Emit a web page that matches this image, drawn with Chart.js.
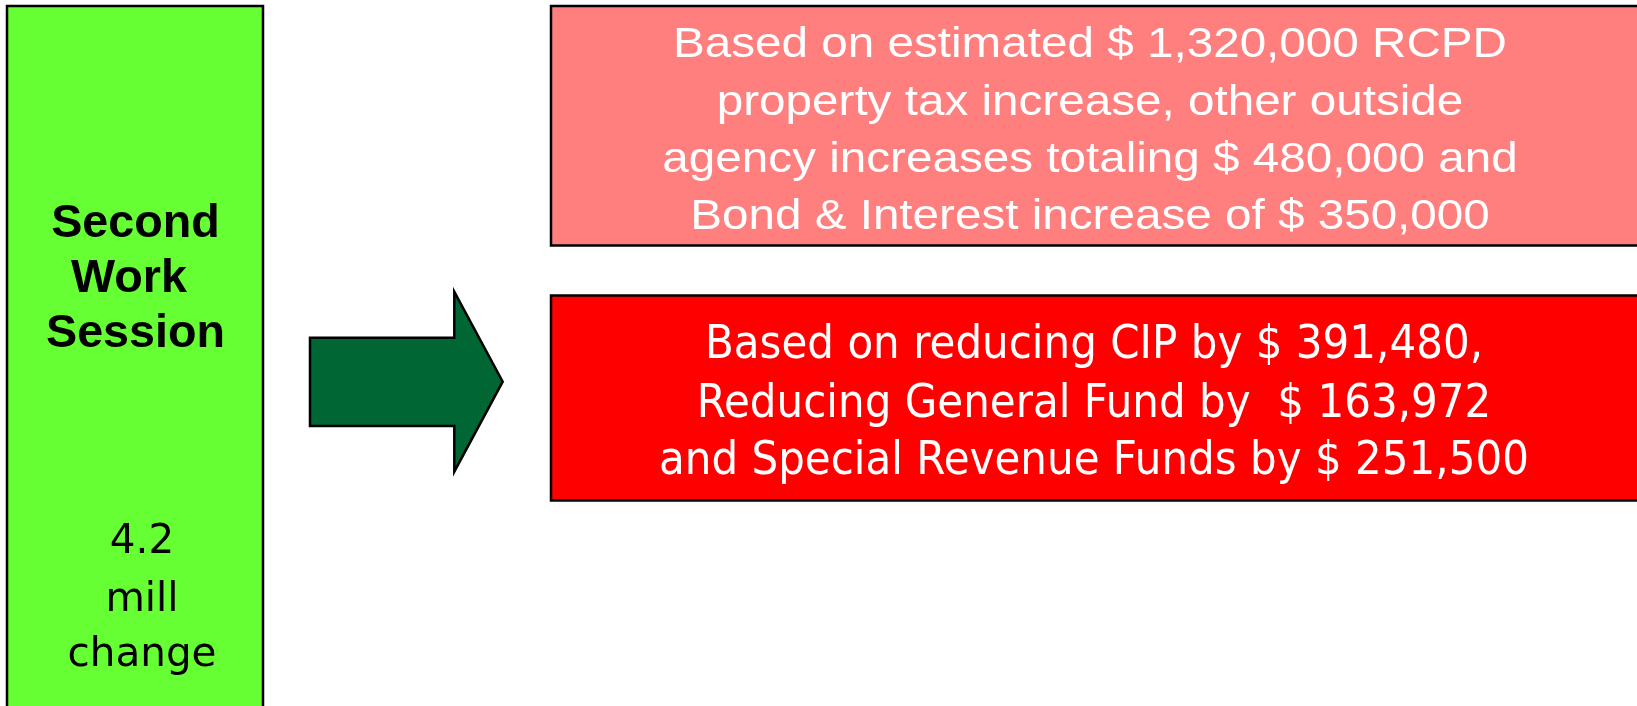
<!DOCTYPE html>
<html>
<head>
<meta charset="utf-8">
<script src="https://cdn.jsdelivr.net/npm/chart.js@4/dist/chart.umd.min.js"></script>
<style>
html,body{margin:0;padding:0;background:#fff;overflow:hidden}
canvas{display:block}
</style>
</head>
<body>
<canvas id="c" width="1637" height="706"></canvas>
<script>
// ---- data ----
const sessionTitle = ['Second', 'Work ', 'Session'];
const millChange = 4.2;
const millLabels = ['mill', 'change'];
const rcpdIncrease = 1320000;
const agencyIncrease = 480000;
const bondIncrease = 350000;
const cipReduction = 391480;
const generalFundReduction = 163972;
const specialRevenueReduction = 251500;

const fmt = v => '$ ' + v.toLocaleString('en-US');
const increaseLines = [
  `Based on estimated ${fmt(rcpdIncrease)} RCPD`,
  'property tax increase, other outside',
  `agency increases totaling ${fmt(agencyIncrease)} and`,
  `Bond & Interest increase of ${fmt(bondIncrease)}`
];
const reductionLines = [
  `Based on reducing CIP by ${fmt(cipReduction)},`,
  `Reducing General Fund by  ${fmt(generalFundReduction)}`,
  `and Special Revenue Funds by ${fmt(specialRevenueReduction)}`
];
const millLines = [String(millChange), ...millLabels];

// ---- drawing plugin (layout in chart units, mapped via the scales) ----
const diagram = {
  id: 'diagram',
  afterDraw(chart) {
    const { ctx, scales: { x, y } } = chart;
    const X = v => x.getPixelForValue(v);
    const Y = v => y.getPixelForValue(v);

    function box(x0, y0, x1, y1, fill) {
      ctx.save();
      ctx.beginPath();
      ctx.rect(X(x0), Y(y0), X(x1) - X(x0), Y(y1) - Y(y0));
      ctx.fillStyle = fill;
      ctx.fill();
      ctx.lineWidth = 2.5;
      ctx.strokeStyle = '#000';
      ctx.stroke();
      ctx.restore();
    }
    function poly(pts, fill) {
      ctx.save();
      ctx.beginPath();
      pts.forEach((p, i) => i ? ctx.lineTo(X(p[0]), Y(p[1])) : ctx.moveTo(X(p[0]), Y(p[1])));
      ctx.closePath();
      ctx.fillStyle = fill;
      ctx.fill();
      ctx.lineWidth = 2.5;
      ctx.lineJoin = 'miter';
      ctx.strokeStyle = '#000';
      ctx.stroke();
      ctx.restore();
    }
    function text(lines, font, color, cx, baselines, refIdx, refWidth) {
      ctx.save();
      ctx.font = font;
      const sx = refWidth ? refWidth / ctx.measureText(lines[refIdx]).width : 1;
      ctx.textAlign = 'center';
      ctx.textBaseline = 'alphabetic';
      ctx.fillStyle = color;
      lines.forEach((t, i) => {
        ctx.save();
        ctx.translate(X(cx), Y(baselines[i]));
        ctx.scale(sx, 1);
        ctx.fillText(t, 0, 0);
        ctx.restore();
      });
      ctx.restore();
    }

    // green session box
    box(7, 6, 263, 715, '#66FF33');
    // arrow
    poly([[310, 337.7], [454.3, 337.7], [454.3, 291.7], [502.7, 381.7],
          [454.3, 471.7], [454.3, 426], [310, 426]], '#006633');
    // pink box
    box(551, 6, 1650, 245.5, '#FF7F7F');
    // red box
    box(551, 295.5, 1650, 500.5, '#FF0000');

    text(sessionTitle, 'bold 47px "Liberation Sans", Arial, sans-serif', '#000',
         135.5, [236.7, 291.7, 346.7], 2, 179);
    text(millLines, '41px "DejaVu Sans", sans-serif', '#000',
         142, [552.5, 611, 666], 2, 149);
    text(increaseLines, '42px "Liberation Sans", Arial, sans-serif', '#fff',
         1090, [57, 114.5, 172, 229], 0, 834);
    text(reductionLines, '45.5px "DejaVu Sans", sans-serif', '#fff',
         1094, [358.3, 416.5, 473.5], 2, 870);
  }
};

function build() {
  new Chart(document.getElementById('c'), {
    type: 'scatter',
    data: { datasets: [] },
    options: {
      responsive: false,
      animation: false,
      events: [],
      layout: { padding: 0 },
      plugins: { legend: { display: false }, tooltip: { enabled: false } },
      scales: {
        x: { type: 'linear', min: 0, max: 1637, display: false },
        y: { type: 'linear', min: 0, max: 706, reverse: true, display: false }
      }
    },
    plugins: [diagram]
  });
}
Promise.all([
  document.fonts.load('bold 47px "Liberation Sans"'),
  document.fonts.load('42px "Liberation Sans"'),
  document.fonts.load('41px "DejaVu Sans"')
]).catch(() => {}).then(build);
</script>
</body>
</html>
